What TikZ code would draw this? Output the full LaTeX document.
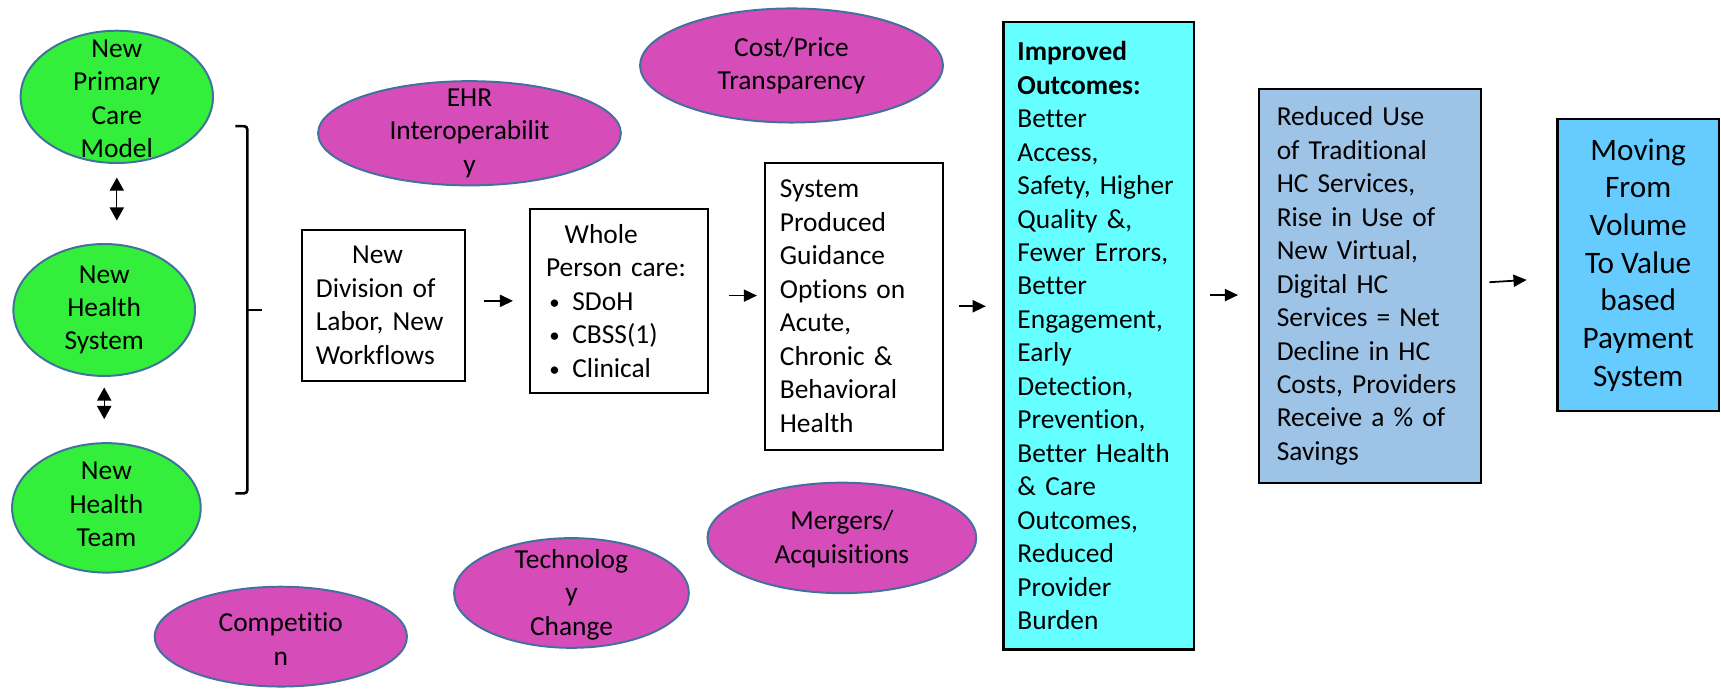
\documentclass[tikz,border=0pt]{standalone}
\usepackage{fontspec}
\setmainfont{Carlito}[Ligatures=NoCommon]
\usetikzlibrary{shapes.geometric,arrows.meta,calc}
\definecolor{grn}{RGB}{51,238,58}
\definecolor{purp}{RGB}{214,76,185}
\definecolor{edgeblue}{RGB}{65,113,156}
\definecolor{cyanbox}{RGB}{102,255,255}
\definecolor{graybox}{RGB}{157,195,230}
\definecolor{bluebox}{RGB}{102,204,255}
\newcommand{\smbul}{\hspace*{3pt}\makebox[21pt][l]{\raisebox{1pt}{\fontsize{19}{19}\selectfont\textbullet}}}
\begin{document}
\begin{tikzpicture}[x=1pt,y=-1pt,
  every node/.style={font=\fontsize{25}{30.5}\selectfont, inner sep=0pt},
  gell/.style={ellipse, draw=edgeblue, line width=1.8pt, fill=grn},
  pell/.style={ellipse, draw=edgeblue, line width=1.8pt, fill=purp},
  etxt/.style={align=center},
  tbox/.style={rectangle, draw=black, line width=1.8pt, align=left, inner ysep=0pt},
  arr/.style={-{Triangle[length=12pt,width=11pt]}, line width=1.6pt},
  dbl/.style={{Triangle[length=12pt,width=13pt]}-{Triangle[length=12pt,width=13pt]}, line width=1.2pt},
  brk/.style={line width=2.4pt, rounded corners=3pt}
]
\useasboundingbox (0,0) rectangle (1569,629);

% green ellipses
\node[gell, minimum width=175.4pt, minimum height=120.6pt] (pcm) at (106.5,88.3) {};
\node[etxt] (pcmt) at (106.5,89.9) {New\\Primary\\Care\\Model};
\node[gell, minimum width=165.6pt, minimum height=120.3pt] (hs) at (95,282.6) {};
\node[etxt] (hst) at (95,282.5) {New\\Health\\System};
\node[gell, minimum width=172pt, minimum height=118pt] (ht) at (97,463) {};
\node[etxt] (htt) at (97,460) {New\\Health\\Team};

% double arrows
\draw[dbl, shorten <=12.4pt, shorten >=20.5pt] (pcm.south) -- (pcm.south |- hs.north);
\draw[dbl, shorten <=9.6pt, shorten >=21pt] (hs.south) -- (hs.south |- ht.north);

% bracket
\draw[brk] (214.6,115) -- (225.5,115) -- (225.5,449.8) -- (214.6,449.8);
\draw[line width=2.4pt] (225.5,282.6) -- (238.5,282.6);

% purple ellipses
\node[pell, minimum width=276pt, minimum height=95pt] (ehr) at (428,121.5) {};
\node[etxt] (ehrt) at (428,121.5) {EHR\\Interoperabilit\\y};
\node[pell, minimum width=276pt, minimum height=104pt] (cost) at (721.6,59.7) {};
\node[etxt] (costt) at (721.6,60) {Cost/Price\\Transparency};
\node[pell, minimum width=245pt, minimum height=100.7pt] (merg) at (767.5,490.4) {};
\node[etxt] (mergt) at (767.5,491.6) {Mergers/\\Acquisitions};
\node[pell, minimum width=214pt, minimum height=100pt] (tech) at (521,540.6) {};
\node[etxt] (techt) at (521,542) {Technolog\\y\\Change};
\node[pell, minimum width=230pt, minimum height=91pt] (comp) at (256,580.4) {};
\node[etxt] (compt) at (256,582.6) {Competitio\\n};

% boxes
\node[tbox, fill=white, minimum width=149pt, minimum height=137.3pt, text width=123pt, inner xsep=13pt] (div) at (349.5,278.4)
  {\hspace*{33pt}New\\Division of\\Labor, New\\Workflows};
\node[tbox, fill=white, minimum width=162.5pt, minimum height=167.5pt, text width=133pt, inner xsep=14.75pt] (whole) at (564.3,274.3)
  {\hspace*{17pt}Whole\\Person care:\\\smbul SDoH\\\smbul CBSS(1)\\\smbul Clinical};
\node[tbox, fill=white, minimum width=162.2pt, minimum height=261.7pt, text width=135pt, inner xsep=13.6pt] (sys) at (778.5,279.2)
  {System\\Produced\\Guidance\\Options on\\Acute,\\Chronic \&\\Behavioral\\Health};
\node[tbox, fill=cyanbox, line width=2.4pt, minimum width=173.8pt, minimum height=572pt, text width=147.8pt, inner xsep=13pt] (out) at (1001.5,306)
  {\textbf{Improved}\\\textbf{Outcomes:}\\Better\\Access,\\Safety, Higher\\Quality \&,\\Fewer Errors,\\Better\\Engagement,\\Early\\Detection,\\Prevention,\\Better Health\\\& Care\\Outcomes,\\Reduced\\Provider\\Burden};
\node[tbox, fill=graybox, minimum width=202.6pt, minimum height=358.6pt, text width=170.6pt, inner xsep=16pt] (red) at (1249.3,260.7)
  {Reduced Use\\of Traditional\\HC Services,\\Rise in Use of\\New Virtual,\\Digital HC\\Services = Net\\Decline in HC\\Costs, Providers\\Receive a \% of\\Savings};
\node[tbox, fill=bluebox, line width=2.4pt, align=center, minimum width=147pt, minimum height=266pt, font=\fontsize{28.5}{34.4}\selectfont] (pay) at (1493.5,241.6)
  {Moving\\From\\Volume\\To Value\\based\\Payment\\System};

% arrows between boxes
\draw[arr, shorten <=16pt, shorten >=14.4pt] (div.east |- whole.west) -- (whole.west);
\draw[arr, shorten <=18pt, shorten >=6.4pt] ($(whole.east)+(0,-4.8)$) -- ($(whole.east -| sys.west)+(0,-4.8)$);
\draw[arr, shorten <=13.4pt, shorten >=14.6pt] (sys.east) -- (sys.east -| out.west);
\draw[arr, shorten <=13.6pt, shorten >=18.4pt] ($(out.east |- red.west)+(0,8.3)$) -- ($(red.west)+(0,8.3)$);
\draw[arr] ($(red.east)+(6.4,-3.4)$) -- ($(pay.west)+(-27,13.6)$);
\end{tikzpicture}
\end{document}
